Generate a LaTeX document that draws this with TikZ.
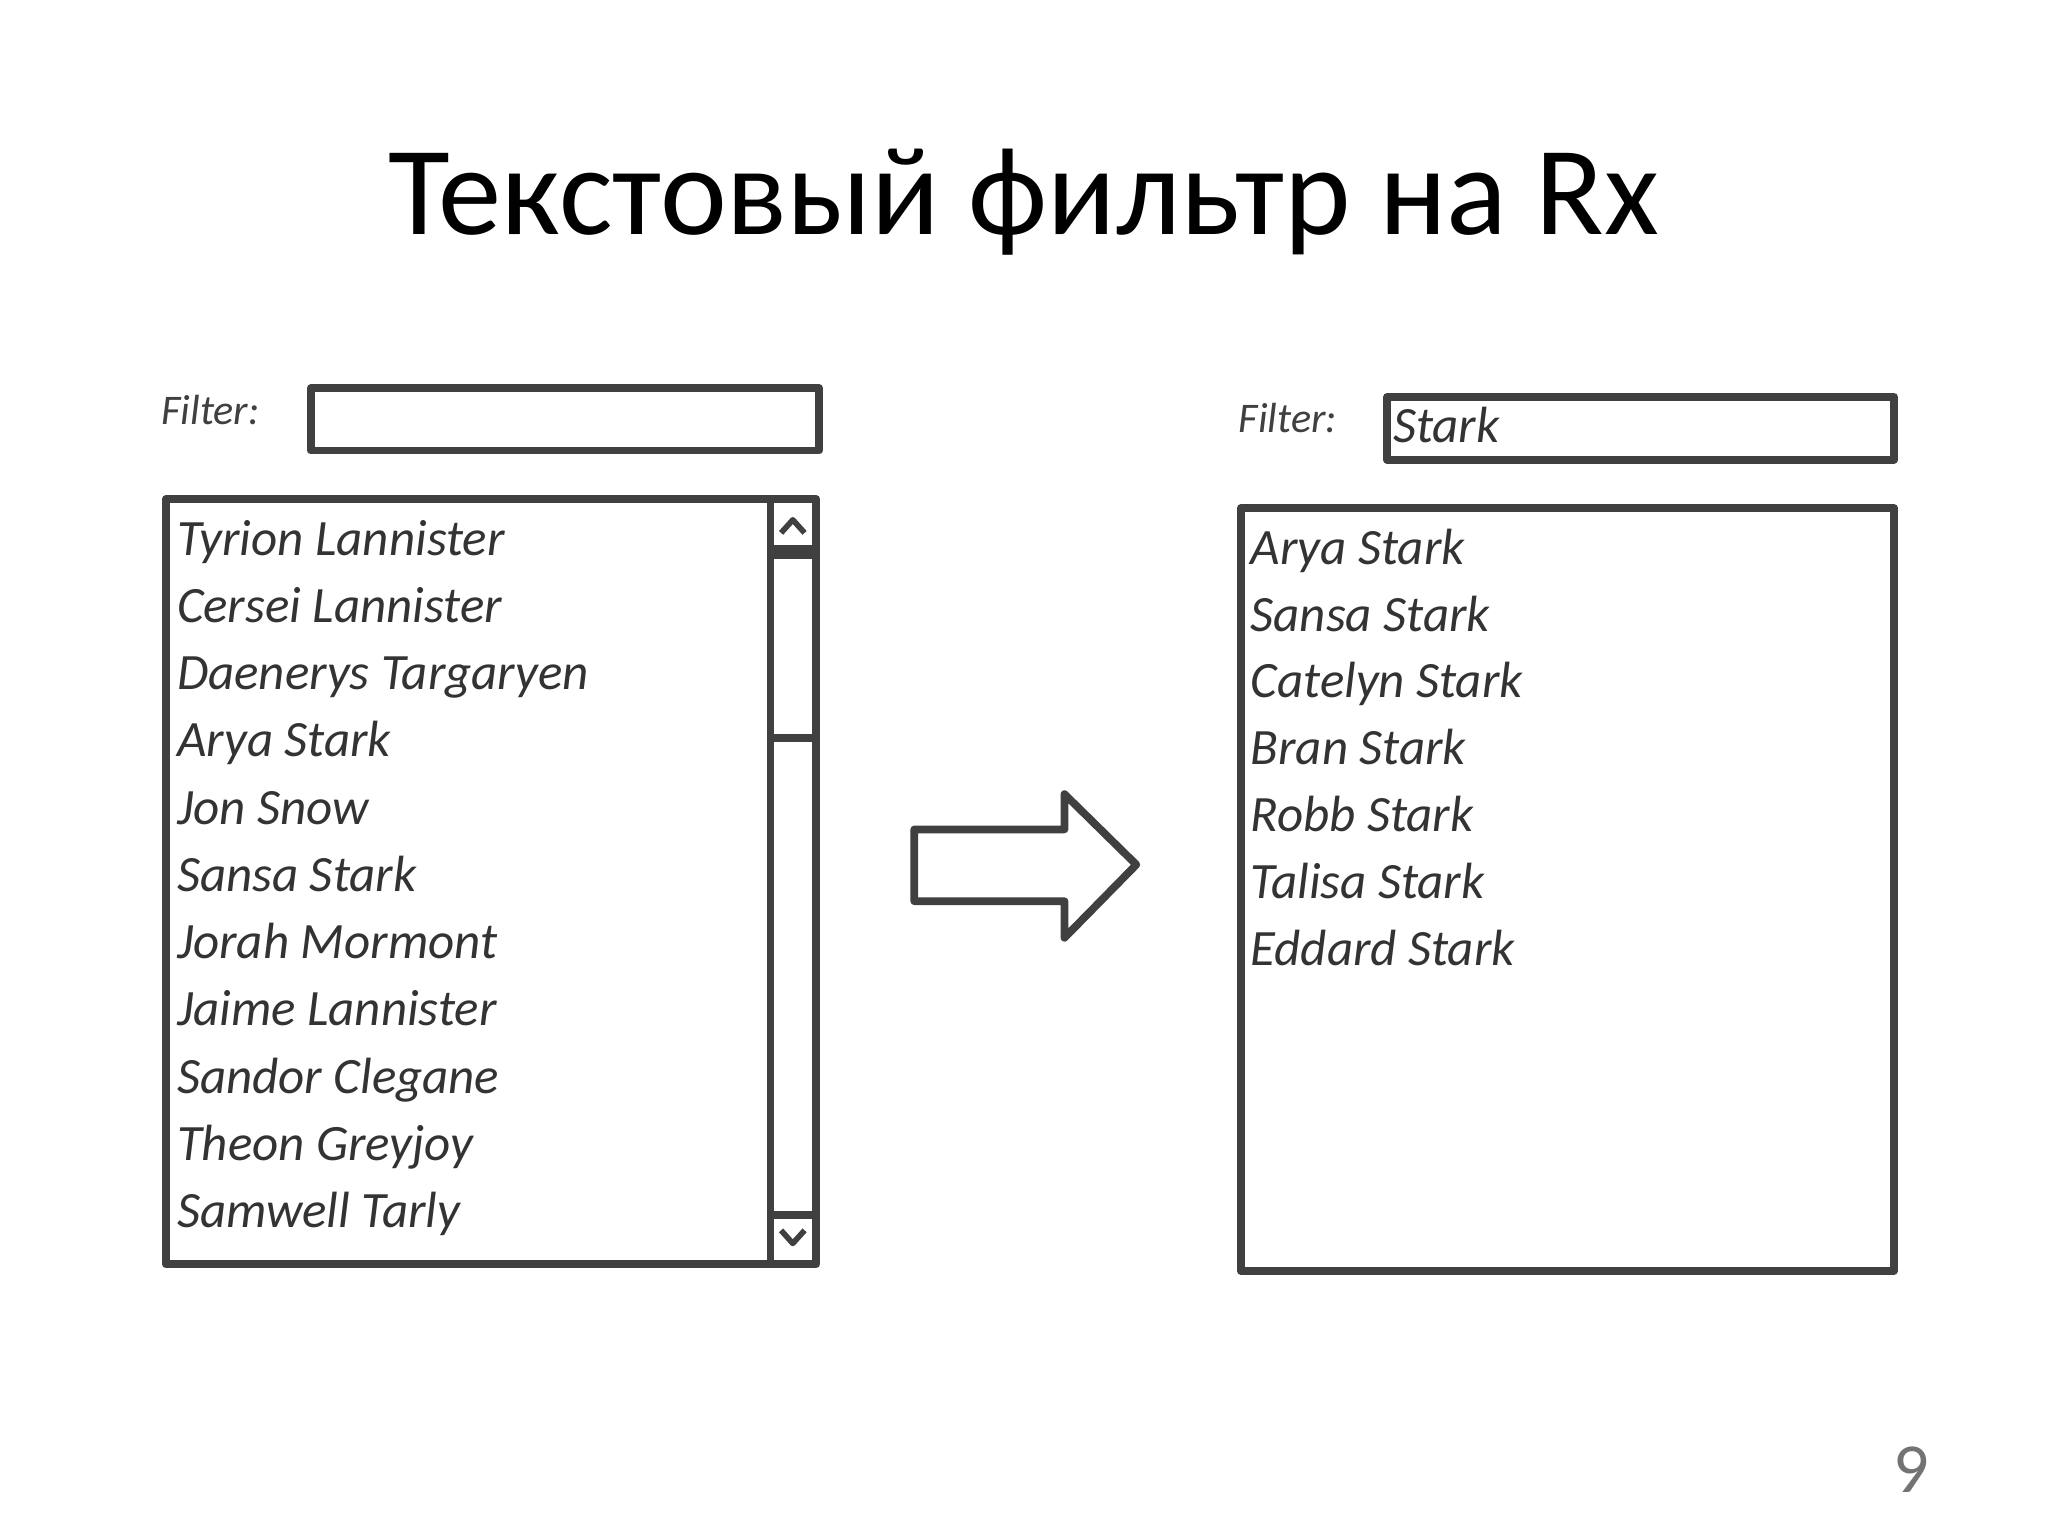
\documentclass[tikz,border=0pt]{standalone}
\usepackage{fontspec}
\setmainfont{Carlito}
\begin{document}
\begin{tikzpicture}[x=0.01306cm,y=-0.01306cm,
  sk/.style={draw=black!75,line width=2.2pt,line join=round},
  item/.style={anchor=base west,inner sep=0pt,font=\fontsize{14.5}{17}\selectfont\itshape,text=black!80},
  lbl/.style={anchor=base west,inner sep=0pt,font=\fontsize{12}{14}\selectfont\itshape,text=black!75}]
\useasboundingbox[fill=white] (0,0) rectangle (1568,1176);
\node[font=\fontsize{36}{44}\selectfont] (title) at (784,155) {Текстовый фильтр на Rx};
% left
\node[lbl] (fl) at (123,325) {Filter:};
\draw[sk] (238,297) rectangle (627,345);
\draw[sk] (127,382) rectangle (625,968);
\draw[sk] (590,382) -- (590,968);
\draw[sk] (590,420) -- (625,420) (590,425) -- (625,425) (590,565) -- (625,565) (590,930) -- (625,930);
\draw[sk,line width=1.6pt] (598,408) -- (607,398) -- (616,408);
\draw[sk,line width=1.6pt] (598,942) -- (607,952) -- (616,942);
\foreach \t [count=\i from 0] in {Tyrion Lannister,Cersei Lannister,Daenerys Targaryen,Arya Stark,Jon Snow,Sansa Stark,Jorah Mormont,Jaime Lannister,Sandor Clegane,Theon Greyjoy,Samwell Tarly}
  \node[item] (l\i) at (135,{425+51.5*\i}) {\t};
% arrow
\draw[sk] (700,635) -- (815,635) -- (815,608) -- (870,662) -- (815,718) -- (815,690) -- (700,690) -- cycle;
% right
\node[lbl] (fr) at (948,331) {Filter:};
\draw[sk] (1062,304) rectangle (1450,352);
\node[item] (st) at (1066,339) {Stark};
\draw[sk] (950,389) rectangle (1450,973);
\foreach \t [count=\i from 0] in {Arya Stark,Sansa Stark,Catelyn Stark,Bran Stark,Robb Stark,Talisa Stark,Eddard Stark}
  \node[item] (r\i) at (957,{432+51.2*\i}) {\t};
\node[text=black!55,font=\fontsize{20}{24}\selectfont] (pg) at (1463,1125) {9};
\end{tikzpicture}
\end{document}
